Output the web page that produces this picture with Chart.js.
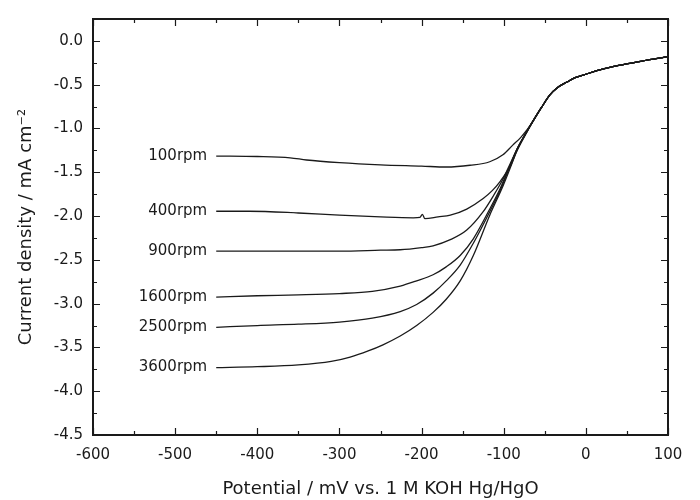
<!DOCTYPE html>
<html>
<head>
<meta charset="utf-8">
<script src="https://cdn.jsdelivr.net/npm/chart.js@4.4.0/dist/chart.umd.min.js"></script>
<style>
    html, body { margin: 0; padding: 0; background: #fff; }
    #wrap { width: 700px; height: 500px; }
</style>
</head>
<body>
<div id="wrap"><canvas id="rdeChart" width="700" height="500"></canvas></div>
<script>
// rotation rates (labels drawn beside each curve)
const speeds = ['100rpm', '400rpm', '900rpm', '1600rpm', '2500rpm', '3600rpm'];

// shared upper part of the curves (all rates merge here), potential in mV
const tailX = [-64, -54, -44, -34, -23, -13, -3, 17, 40, 60, 80, 100];
const tailY = [-0.91, -0.76, -0.62, -0.53, -0.47, -0.42, -0.39, -0.33, -0.28, -0.245, -0.21, -0.18];

// lower part of each curve
const x100 = [-450, -400, -360, -340, -300, -250, -200, -170, -141, -117, -101, -89, -80, -72];
const y100 = [-1.315, -1.32, -1.335, -1.36, -1.39, -1.415, -1.43, -1.44, -1.42, -1.38, -1.30, -1.19, -1.11, -1.02];

const x400 = [-450, -410, -350, -300, -250, -210, -202, -199, -196, -180, -165, -145, -125, -114, -104, -92, -84, -74];
const y400 = [-1.945, -1.945, -1.965, -1.99, -2.01, -2.02, -2.015, -1.98, -2.03, -2.01, -1.99, -1.92, -1.80, -1.71, -1.60, -1.43, -1.26, -1.08];

const x900 = [-450, -400, -300, -250, -226, -200, -186, -165, -145, -125, -112, -101, -92, -84, -74];
const y900 = [-2.40, -2.40, -2.40, -2.39, -2.385, -2.36, -2.34, -2.27, -2.16, -1.95, -1.76, -1.58, -1.40, -1.24, -1.07];

const x1600 = [-450, -400, -350, -300, -260, -226, -206, -186, -170, -153, -137, -117, -104, -94, -84, -74];
const y1600 = [-2.925, -2.91, -2.90, -2.885, -2.86, -2.80, -2.74, -2.67, -2.58, -2.45, -2.26, -1.92, -1.68, -1.46, -1.24, -1.07];

const x2500 = [-450, -400, -350, -300, -260, -226, -206, -186, -170, -153, -137, -117, -104, -94, -84, -74];
const y2500 = [-3.27, -3.25, -3.235, -3.21, -3.165, -3.09, -3.01, -2.88, -2.74, -2.56, -2.31, -1.95, -1.70, -1.47, -1.24, -1.07];

const x3600 = [-450, -400, -350, -310, -287, -265, -247, -226, -206, -186, -170, -153, -137, -117, -101, -92, -84, -74];
const y3600 = [-3.73, -3.72, -3.70, -3.66, -3.61, -3.54, -3.47, -3.37, -3.25, -3.10, -2.95, -2.74, -2.45, -1.99, -1.66, -1.45, -1.25, -1.07];

const lowerX = [x100, x400, x900, x1600, x2500, x3600];
const lowerY = [y100, y400, y900, y1600, y2500, y3600];

function buildPoints(xs, ys) {
    const pts = xs.map((x, i) => ({ x: x, y: ys[i] }));
    tailX.forEach((x, i) => pts.push({ x: x, y: tailY[i] }));
    return pts;
}

const ink = '#1a1a1a';
const fontFamily = '"DejaVu Sans", Arial, sans-serif';

// frame with inward major / minor ticks on all four sides
const frameTicks = {
    id: 'frameTicks',
    afterDatasetsDraw(chart) {
        const { ctx, chartArea: a, scales } = chart;
        const xs = scales.x, ys = scales.y;
        ctx.save();
        ctx.strokeStyle = ink;
        ctx.lineWidth = 1.2;
        for (let v = -600; v <= 100; v += 50) {
            const len = v % 100 === 0 ? 7 : 4;
            const px = Math.round(xs.getPixelForValue(v)) + 0.5;
            ctx.beginPath();
            ctx.moveTo(px, a.bottom); ctx.lineTo(px, a.bottom - len);
            ctx.moveTo(px, a.top); ctx.lineTo(px, a.top + len);
            ctx.stroke();
        }
        for (let v = -4.5; v <= 0.25; v += 0.25) {
            const major = Math.abs(v * 2 - Math.round(v * 2)) < 1e-6;
            const len = major ? 7 : 4;
            const py = Math.round(ys.getPixelForValue(v)) + 0.5;
            ctx.beginPath();
            ctx.moveTo(a.left, py); ctx.lineTo(a.left + len, py);
            ctx.moveTo(a.right, py); ctx.lineTo(a.right - len, py);
            ctx.stroke();
        }
        ctx.lineWidth = 2;
        ctx.strokeRect(a.left, a.top, a.right - a.left, a.bottom - a.top);

        // rotation rate labels, right-aligned before each curve start
        ctx.fillStyle = ink;
        ctx.font = '15px ' + fontFamily;
        ctx.textAlign = 'right';
        ctx.textBaseline = 'middle';
        speeds.forEach((s, i) => {
            const px = xs.getPixelForValue(lowerX[i][0]) - 9;
            const py = ys.getPixelForValue(lowerY[i][0]);
            ctx.fillText(s, px, py);
        });
        ctx.restore();
    }
};

const datasets = speeds.map((s, i) => ({
    label: s,
    data: buildPoints(lowerX[i], lowerY[i]),
    borderColor: ink,
    borderWidth: 1.3,
    pointRadius: 0,
    fill: false,
    cubicInterpolationMode: 'monotone'
}));

const config = {
    type: 'line',
    data: { datasets: datasets },
    options: {
        responsive: false,
        animation: false,
        layout: {
            padding: { top: 9, right: 32, left: 0, bottom: 0 }
        },
        scales: {
            x: {
                type: 'linear',
                min: -600,
                max: 100,
                grid: { display: false, drawTicks: false },
                border: { display: false },
                ticks: {
                    stepSize: 100,
                    color: ink,
                    padding: 11,
                    font: { size: 15, family: fontFamily },
                    maxRotation: 0
                },
                title: {
                    display: true,
                    text: 'Potential / mV vs. 1 M KOH Hg/HgO',
                    color: ink,
                    font: { size: 18, family: fontFamily },
                    padding: { top: 2, bottom: 0 }
                },
                afterFit: function (scale) { scale.height = 65; }
            },
            y: {
                type: 'linear',
                min: -4.5,
                max: 0.25,
                grid: { display: false, drawTicks: false },
                border: { display: false },
                ticks: {
                    stepSize: 0.25,
                    color: ink,
                    padding: 10,
                    font: { size: 15, family: fontFamily },
                    callback: function (v) {
                        if (Math.abs(v * 2 - Math.round(v * 2)) > 1e-6) return '';
                        return Number(v).toFixed(1);
                    }
                },
                title: {
                    display: true,
                    text: 'Current density / mA cm\u207B\u00B2',
                    color: ink,
                    font: { size: 18, family: fontFamily },
                    padding: { top: 16, bottom: 0 }
                },
                afterFit: function (scale) { scale.width = 93; }
            }
        },
        plugins: {
            legend: { display: false },
            tooltip: { enabled: false }
        }
    },
    plugins: [frameTicks]
};

const rdeChart = new Chart(document.getElementById('rdeChart'), config);
</script>
</body>
</html>
